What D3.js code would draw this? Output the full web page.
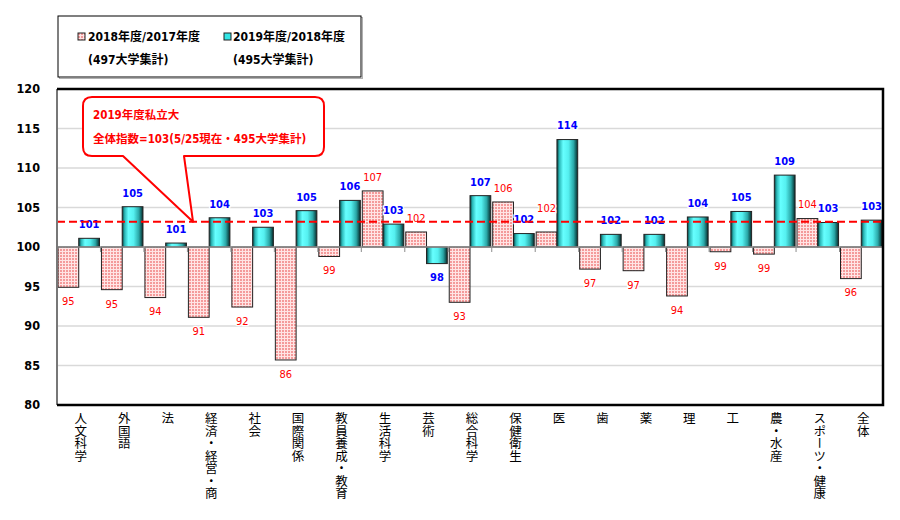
<!DOCTYPE html>
<html><head><meta charset="utf-8">
<script src="https://cdn.jsdelivr.net/npm/d3@7"></script>
<style>
body{margin:0;background:#fff;}
svg{display:block;}
</style>
</head><body>
<svg id="chart" width="900" height="520"></svg>
<script>
const categories = ["人文科学","外国語","法","経済・経営・商","社会","国際関係","教員養成・教育","生活科学","芸術","総合科学","保健衛生","医","歯","薬","理","工","農・水産","スポーツ・健康","全体"];
const ratio2018 = [94.9,94.6,93.6,91.1,92.4,85.7,98.8,107.1,101.9,93.0,105.7,101.9,97.2,97.0,93.8,99.4,99.1,103.6,96.0];
const ratio2019 = [101.1,105.1,100.5,103.7,102.5,104.6,105.9,102.9,97.9,106.5,101.7,113.6,101.6,101.6,103.8,104.5,109.1,103.1,103.4];
const seriesNames = ["2018年度/2017年度","2019年度/2018年度"];
const seriesNotes = ["(497大学集計)","(495大学集計)"];
const yTicks = [80,85,90,95,100,105,110,115,120];
const overallIndex = 103.2;
const calloutLines = ["2019年度私立大","全体指数=103(5/25現在・495大学集計)"];

(function(){
const svg = d3.select("#chart");
const NUM = "'DejaVu Sans Condensed','DejaVu Sans','Noto Sans CJK JP',sans-serif";
const CJK = "'DejaVu Sans Condensed','DejaVu Sans','Noto Sans CJK JP',sans-serif";

const pL = 57, pR = 883, pT = 89, pB = 405;
const x = d3.scaleBand().domain(categories).range([pL, pR]).paddingInner(0.045).paddingOuter(0.0225);
const sub = d3.scaleBand().domain([0,1]).range([0, x.bandwidth()]);
const y = d3.scaleLinear().domain([80,120]).range([pB, pT]);
const base = 100;

// defs
const defs = svg.append("defs");
const pat = defs.append("pattern").attr("id","dots").attr("width",3).attr("height",3).attr("patternUnits","userSpaceOnUse");
pat.append("rect").attr("width",3).attr("height",3).attr("fill","#ffe4e4");
pat.append("rect").attr("x",0).attr("y",0).attr("width",2).attr("height",2).attr("fill","#f49a9a");
const grad = defs.append("linearGradient").attr("id","cyl").attr("x1","0").attr("x2","1").attr("y1","0").attr("y2","0");
[["0%","#063c3c"],["12%","#2bb8b8"],["30%","#66ffff"],["55%","#55f0f0"],["80%","#2aa8a8"],["100%","#052a2a"]].forEach(s=>grad.append("stop").attr("offset",s[0]).attr("stop-color",s[1]));

// gridlines
svg.append("g").selectAll("line").data(yTicks.filter(t=>t!==80 && t!==120 && t!==100)).join("line")
  .attr("x1",pL).attr("x2",pR).attr("y1",d=>y(d)).attr("y2",d=>y(d))
  .attr("stroke","#d9d9d9").attr("stroke-width",1.5);

// y tick labels
svg.append("g").selectAll("text").data(yTicks).join("text")
  .attr("x",40).attr("y",d=>y(d)).attr("dy","0.35em").attr("text-anchor","end")
  .attr("font-family",NUM).attr("font-weight","bold").attr("font-size",12.5).attr("fill","#000")
  .text(d=>d);

// bars
const rows = categories.map((c,i)=>({c, v:[ratio2018[i], ratio2019[i]]}));
const barG = svg.append("g");
rows.forEach(r=>{
  r.v.forEach((v,k)=>{
    barG.append("rect")
      .attr("x", x(r.c)+sub(k)).attr("width", sub.bandwidth())
      .attr("y", y(Math.max(v,base))).attr("height", Math.abs(y(v)-y(base)))
      .attr("fill", k===0 ? "url(#dots)" : "url(#cyl)")
      .attr("stroke", "#222").attr("stroke-width",1);
  });
});

// baseline with ticks
svg.append("line").attr("x1",pL).attr("x2",pR).attr("y1",y(base)).attr("y2",y(base)).attr("stroke","#8c8c8c").attr("stroke-width",1.5);
const step = x.step();
svg.append("g").selectAll("line").data(d3.range(1,categories.length)).join("line")
  .attr("x1",d=>pL+step*d).attr("x2",d=>pL+step*d).attr("y1",y(base)).attr("y2",y(base)+5)
  .attr("stroke","#8c8c8c").attr("stroke-width",1);

// value labels
const lab = svg.append("g");
rows.forEach((r,i)=>{
  r.v.forEach((v,k)=>{
    let cy = v>=base ? y(v)-14 : y(v)+14;
    // avoid collision with the neighbouring label at the same height
    if (k===0 && i>0 && v>=base && Math.abs(y(rows[i-1].v[1]) - y(v)) < 6 && r.v[1] > v + 5) cy -= 10;
    lab.append("text")
      .attr("x", x(r.c)+sub(k)+sub.bandwidth()/2).attr("y", cy).attr("dy","0.35em")
      .attr("text-anchor","middle").attr("font-family",NUM).attr("font-size",11)
      .attr("font-weight", k===0 ? "normal" : "bold")
      .attr("fill", k===0 ? "#ff0000" : "#0000ff")
      .attr("stroke","#fff").attr("stroke-width",2.5).attr("paint-order","stroke")
      .text(Math.round(v));
  });
});

// dashed overall line
svg.append("line").attr("x1",pL).attr("x2",pR).attr("y1",y(overallIndex)).attr("y2",y(overallIndex))
  .attr("stroke","#ff0000").attr("stroke-width",2).attr("stroke-dasharray","8,4");

// frame
svg.append("line").attr("x1",pL).attr("x2",pL).attr("y1",pT).attr("y2",pB).attr("stroke","#777").attr("stroke-width",2);
svg.append("path").attr("d",`M${pL},${pT}H${pR}V${pB}H${pL}`).attr("fill","none").attr("stroke","#000").attr("stroke-width",2.5);

// x labels (vertical)
svg.append("g").selectAll("text").data(categories).join("text")
  .attr("x",d=>x(d)+x.bandwidth()/2+2).attr("y",412)
  .attr("font-family","'Noto Sans CJK JP',sans-serif").attr("font-size",12.5).attr("fill","#000")
  .style("writing-mode","vertical-rl").style("text-orientation","upright")
  .text(d=>d);

// legend
svg.append("rect").attr("x",59.5).attr("y",17.5).attr("width",303).attr("height",61).attr("fill","none").attr("stroke","#b0b0b0").attr("stroke-width",1);
svg.append("rect").attr("x",58).attr("y",16).attr("width",303).attr("height",61).attr("fill","#fff").attr("stroke","#000").attr("stroke-width",1);
const lx = [88, 233], sx = [78, 224];
[0,1].forEach(k=>{
  svg.append("rect").attr("x",sx[k]).attr("y",33).attr("width",7).attr("height",7)
    .attr("fill", k===0 ? "url(#dots)" : "#33e6e6").attr("stroke","#222").attr("stroke-width",1);
  svg.append("text").attr("x",lx[k]).attr("y",36.5).attr("dy","0.36em").attr("font-family",CJK).attr("font-weight","bold").attr("font-size",12).text(seriesNames[k]);
  svg.append("text").attr("x",lx[k]).attr("y",59.5).attr("dy","0.36em").attr("font-family",CJK).attr("font-weight","bold").attr("font-size",12).text(seriesNotes[k]);
});

// callout
const cx0=83, cx1=324, cy0=97, cy1=156, rr=9;
const tipX = 193, tipY = y(overallIndex);
const tA = 123, tB = 184;
const path = `M${cx0+rr},${cy0} H${cx1-rr} Q${cx1},${cy0} ${cx1},${cy0+rr} V${cy1-rr} Q${cx1},${cy1} ${cx1-rr},${cy1} H${tB} L${tipX},${tipY} L${tA},${cy1} H${cx0+rr} Q${cx0},${cy1} ${cx0},${cy1-rr} V${cy0+rr} Q${cx0},${cy0} ${cx0+rr},${cy0} Z`;
svg.append("path").attr("d",path).attr("fill","#fff").attr("stroke","#ff0000").attr("stroke-width",2).attr("stroke-linejoin","round");
svg.append("text").attr("x",93).attr("y",115).attr("dy","0.36em").attr("font-family",CJK).attr("font-weight","bold").attr("font-size",11.5).attr("fill","#ff0000").text(calloutLines[0]);
svg.append("text").attr("x",93).attr("y",138.5).attr("dy","0.36em").attr("font-family",CJK).attr("font-weight","bold").attr("font-size",11.5).attr("fill","#ff0000").text(calloutLines[1]);
})();
</script>
</body></html>
